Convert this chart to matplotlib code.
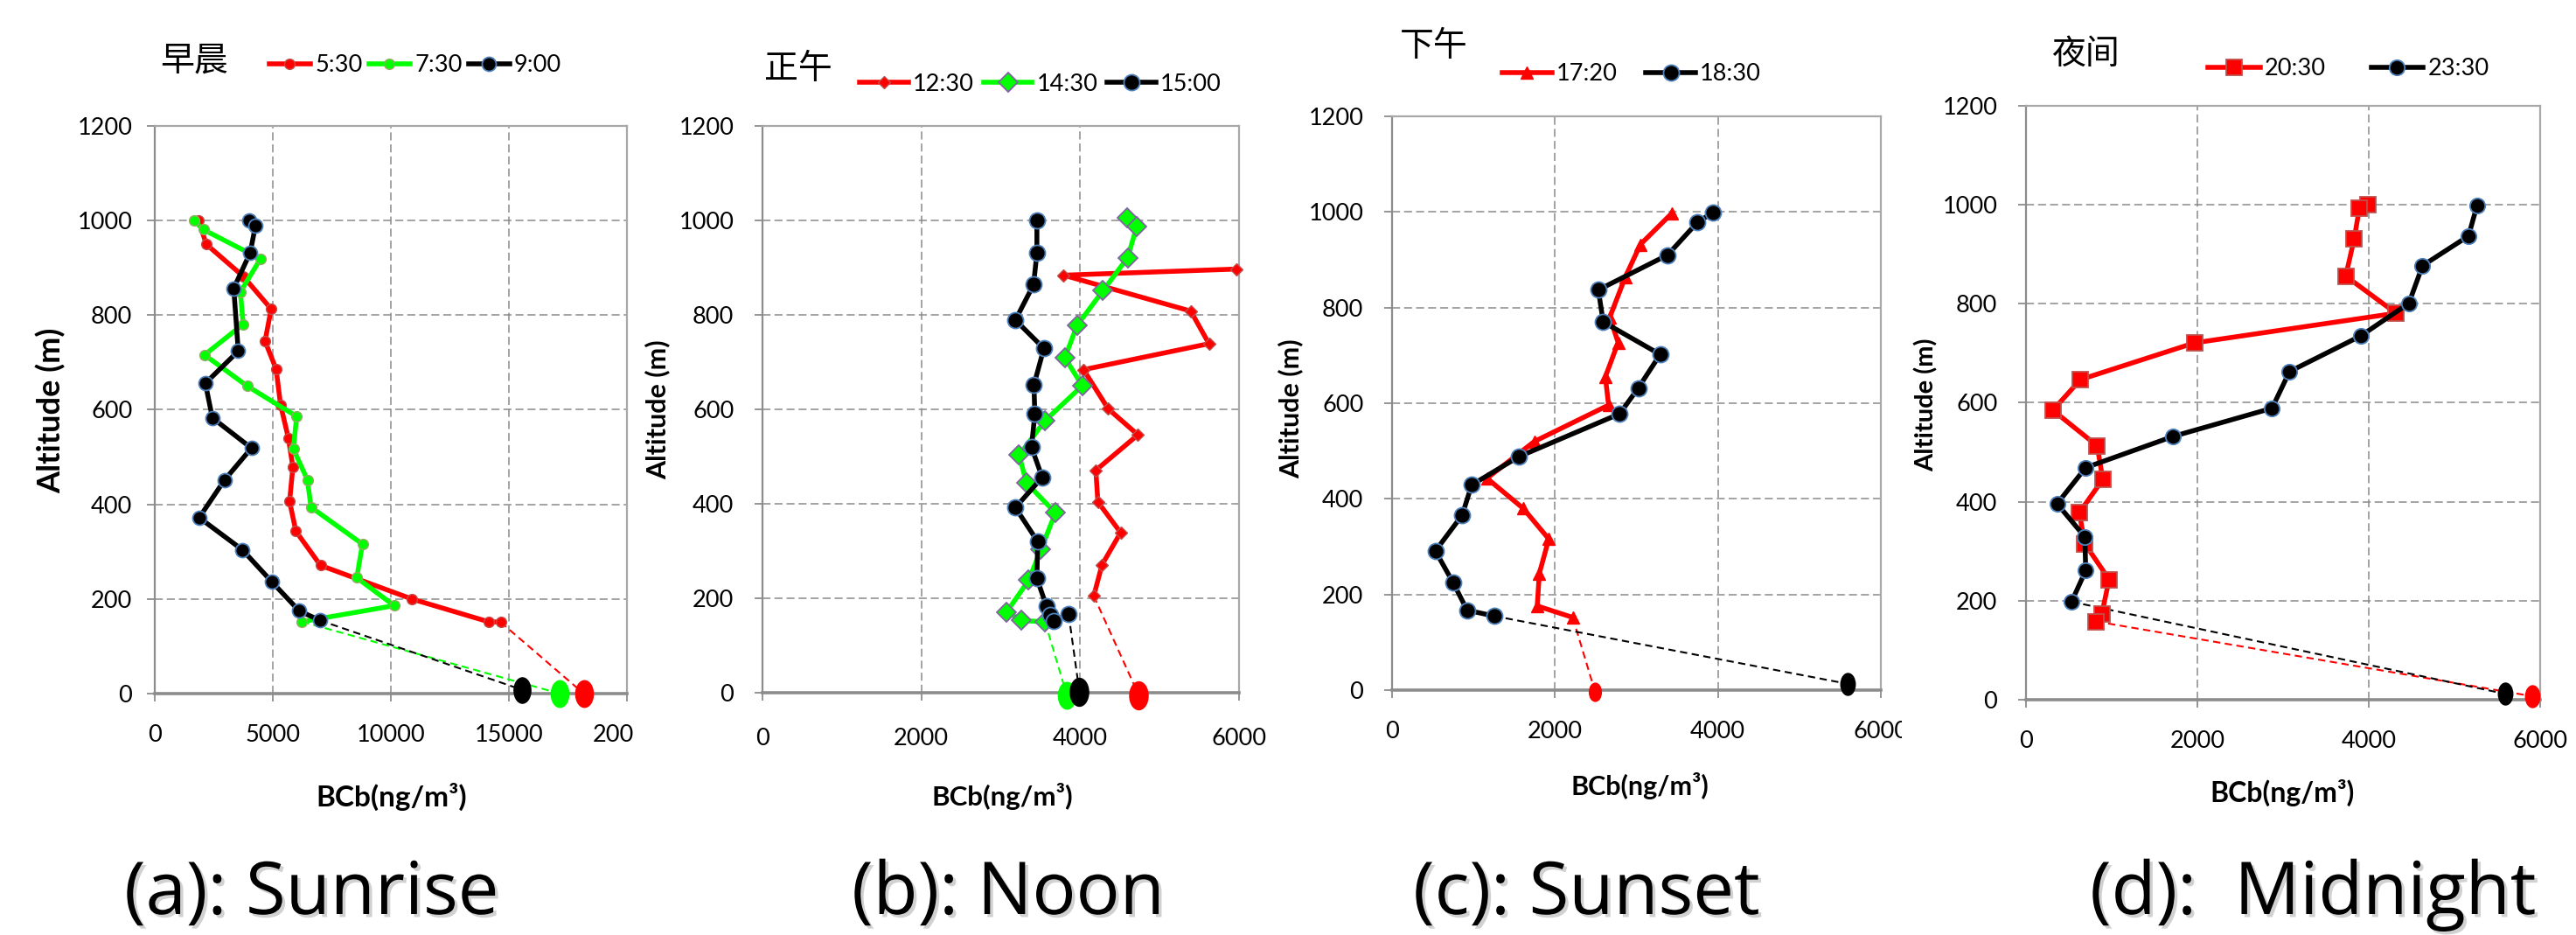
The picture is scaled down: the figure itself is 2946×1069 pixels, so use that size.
import numpy as np
import matplotlib
matplotlib.use('Agg')
import matplotlib.pyplot as plt
from matplotlib.path import Path
import matplotlib.transforms as mtrans
from matplotlib.transforms import Bbox, TransformedBbox
import matplotlib.patheffects as pe

# ---------------- data ----------------
# (a) Sunrise 早晨
a_530_bc = [1860, 2180, 3750, 4930, 4670, 5140, 5330, 5660, 5850, 5710, 5980, 7020, 10890, 14130, 14650]
a_530_alt = [1000, 950, 882, 813, 745, 686, 610, 540, 479, 406, 343, 271, 200, 152, 151]
a_730_bc = [1655, 2056, 4477, 3624, 3746, 2108, 3920, 6010, 5871, 6463, 6620, 8798, 8554, 10139, 6237]
a_730_alt = [1000, 981, 919, 849, 781, 716, 650, 586, 517, 452, 394, 316, 245, 186, 152]
a_900_bc = [4007, 4268, 4042, 3345, 3537, 2143, 2439, 4094, 2962, 1882, 3711, 4965, 6115, 6986]
a_900_alt = [1000, 990, 932, 857, 724, 656, 583, 519, 452, 372, 304, 236, 175, 155]
a_ground_bc = [18170, 17160, 15560]
a_ground_alt = [0, 0, 8]
a_labels = ['5:30', '7:30', '9:00']

# (b) Noon 正午
b_1230_bc = [5964, 3792, 5392, 5621, 4042, 4353, 4727, 4197, 4223, 4509, 4275, 4171]
b_1230_alt = [897, 884, 808, 739, 684, 601, 546, 471, 404, 339, 271, 205]
b_1430_bc = [4587, 4712, 4597, 4286, 3958, 3808, 4026, 3558, 3231, 3325, 3688, 3506, 3351, 3075, 3262, 3558]
b_1430_alt = [1005, 987, 921, 851, 777, 709, 650, 576, 503, 444, 381, 303, 238, 171, 153, 150]
b_1500_bc = [3455, 3455, 3413, 3184, 3543, 3418, 3429, 3387, 3522, 3184, 3465, 3455, 3574, 3626, 3662, 3855]
b_1500_alt = [1000, 931, 864, 789, 729, 652, 590, 520, 456, 392, 320, 242, 184, 164, 152, 166]
b_ground_bc = [4737, 3834, 3990]
b_ground_alt = [-5, -6, 2]
b_labels = ['12:30', '14:30', '15:00']

# (c) Sunset 下午
c_1720_bc = [3433, 3048, 2861, 2673, 2775, 2618, 2658, 1747, 1165, 1610, 1924, 1808, 1782, 2218]
c_1720_alt = [997, 932, 863, 780, 727, 655, 596, 520, 443, 380, 316, 244, 176, 152]
c_1830_bc = [3939, 3747, 3382, 2532, 2592, 3291, 3023, 2795, 1554, 977, 861, 532, 749, 922, 1251]
c_1830_alt = [999, 978, 910, 837, 770, 702, 632, 578, 488, 429, 366, 291, 225, 167, 155]
c_ground_bc = [2491, 5595]
c_ground_alt = [-3, 13]
c_labels = ['17:20', '18:30']

# (d) Midnight 夜间
d_2030_bc = [3990, 3891, 3831, 3731, 4318, 1965, 637, 313, 831, 896, 622, 687, 970, 886, 821]
d_2030_alt = [1000, 994, 932, 856, 781, 721, 647, 585, 513, 445, 378, 315, 243, 174, 158]
d_2330_bc = [5264, 5164, 4627, 4468, 3905, 3075, 2871, 1716, 697, 363, 687, 697, 532]
d_2330_alt = [999, 937, 877, 801, 735, 663, 589, 532, 469, 396, 329, 261, 198]
d_ground_bc = [5910, 5587]
d_ground_alt = [7, 12]
d_labels = ['20:30', '23:30']

y_ticks = [0, 200, 400, 600, 800, 1000, 1200]
a_xticks = [0, 5000, 10000, 15000, 20000]
bcd_xticks = [0, 2000, 4000, 6000]

titles_cn = ['早晨', '正午', '下午', '夜间']
captions = ['(a): Sunrise', '(b): Noon', '(c): Sunset', '(d):  Midnight']
xlabel = 'BCb(ng/m³)'
ylabel = 'Altitude (m)'

# ---------------- styling ----------------
plt.rcParams['font.family'] = ['Liberation Sans Narrow', 'Lato', 'DejaVu Sans']
W, H = 2946, 1069
fig = plt.figure(figsize=(W / 100, H / 100), dpi=100)


def rect(l, r, t, b):
    return [l / W, 1 - b / H, (r - l) / W, (b - t) / H]


ELL = Path.unit_circle().transformed(mtrans.Affine2D().scale(0.66, 1.0))
RED, GREEN, BLACK = '#FF0000', '#00FF00', '#000000'
BLUE_EDGE = '#4F81BD'
TICK_FS = 19.5


def style_axes(ax, xmax, xticks, ypad, xpad):
    ax.set_xlim(0, xmax)
    ax.set_ylim(0, 1200)
    ax.set_xticks(xticks)
    ax.set_yticks(y_ticks)
    ax.set_xticklabels([str(v) for v in xticks])
    ax.grid(True, color='#8a8a8a', linestyle=(0, (6, 3)), linewidth=1.1)
    ax.set_axisbelow(True)
    for s in ['top', 'right']:
        ax.spines[s].set_color('#a8a8a8')
        ax.spines[s].set_linewidth(1.6)
    ax.spines['left'].set_color('#8c8c8c')
    ax.spines['left'].set_linewidth(1.6)
    ax.spines['bottom'].set_color('#8c8c8c')
    ax.spines['bottom'].set_linewidth(2.6)
    ax.tick_params(axis='both', direction='out', color='#8c8c8c', length=6.5,
                   width=1.3, labelsize=TICK_FS)
    ax.tick_params(axis='y', pad=ypad)
    ax.tick_params(axis='x', pad=xpad)


def profile(ax, x, y, color, marker, ms, mfc, mec, mew, label, lw=4.0):
    ax.plot(x, y, color=color, lw=lw, marker=marker, ms=ms, mfc=mfc, mec=mec,
            mew=mew, label=label, zorder=3, clip_on=False)


def ground(ax, x_last, y_last, gx, gy, color, ms):
    ax.plot([x_last, gx], [y_last, gy], color=color, lw=1.5,
            linestyle=(0, (4, 2.5)), zorder=2, clip_on=False)
    ax.plot([gx], [gy], marker=ELL, ms=ms, color=color, mec=color,
            linestyle='none', zorder=5, clip_on=False)


def legend(ax, fx, fy, ncol, hl, cs):
    ax.legend(loc='center', bbox_to_anchor=(fx / W, 1 - fy / H),
              bbox_transform=fig.transFigure, ncol=ncol, frameon=False,
              fontsize=TICK_FS, handlelength=hl, handletextpad=0.19,
              columnspacing=cs, borderaxespad=0, borderpad=0, numpoints=1)


# ---------------- panel (a) ----------------
axa = fig.add_axes(rect(177, 717, 144, 793))
style_axes(axa, 20000, a_xticks, 12, 19)
ground(axa, a_530_bc[-1], a_530_alt[-1], a_ground_bc[0], a_ground_alt[0], RED, 22)
ground(axa, a_730_bc[-1], a_730_alt[-1], a_ground_bc[1], a_ground_alt[1], GREEN, 22)
ground(axa, a_900_bc[-1], a_900_alt[-1], a_ground_bc[2], a_ground_alt[2], BLACK, 21)
profile(axa, a_530_bc, a_530_alt, RED, 'o', 8.5, RED, '#C0504D', 1.0, a_labels[0], lw=4.0)
profile(axa, a_730_bc, a_730_alt, GREEN, 'o', 8.5, GREEN, '#9BA86A', 1.0, a_labels[1], lw=4.0)
profile(axa, a_900_bc, a_900_alt, BLACK, 'o', 11.5, BLACK, BLUE_EDGE, 1.3, a_labels[2], lw=4.0)
legend(axa, 475, 75, 3, 1.75, 0.26)

# ---------------- panel (b) ----------------
axb = fig.add_axes(rect(872, 1417, 144, 792))
style_axes(axb, 6000, bcd_xticks, 17, 22)
ground(axb, b_1230_bc[-1], b_1230_alt[-1], b_ground_bc[0], b_ground_alt[0], RED, 23)
ground(axb, b_1430_bc[-1], b_1430_alt[-1], b_ground_bc[1], b_ground_alt[1], GREEN, 22)
ground(axb, b_1500_bc[-1], b_1500_alt[-1], b_ground_bc[2], b_ground_alt[2], BLACK, 23)
profile(axb, b_1230_bc, b_1230_alt, RED, 'D', 7.5, RED, '#C0504D', 1.0, b_labels[0], lw=4.0)
profile(axb, b_1430_bc, b_1430_alt, GREEN, 'D', 11.5, GREEN, '#8064A2', 1.3, b_labels[1], lw=4.0)
profile(axb, b_1500_bc, b_1500_alt, BLACK, 'o', 13, BLACK, BLUE_EDGE, 1.3, b_labels[2], lw=4.0)
legend(axb, 1190, 96, 3, 2.05, 0.4)

# ---------------- panel (c) ----------------
axc = fig.add_axes(rect(1592, 2151, 133, 789))
style_axes(axc, 6000, bcd_xticks, 17, 19)
ground(axc, c_1720_bc[-1], c_1720_alt[-1], c_ground_bc[0], c_ground_alt[0], RED, 15)
ground(axc, c_1830_bc[-1], c_1830_alt[-1], c_ground_bc[1], c_ground_alt[1], BLACK, 18)
profile(axc, c_1720_bc, c_1720_alt, RED, '^', 10, RED, RED, 1.0, c_labels[0], lw=4.0)
profile(axc, c_1830_bc, c_1830_alt, BLACK, 'o', 13, BLACK, BLUE_EDGE, 1.3, c_labels[1], lw=4.0)
legend(axc, 1866, 85, 2, 2.1, 1.2)

# ---------------- panel (d) ----------------
axd = fig.add_axes(rect(2317, 2905, 121, 800))
style_axes(axd, 6000, bcd_xticks, 17, 19)
ground(axd, d_2030_bc[-1], d_2030_alt[-1], d_ground_bc[0], d_ground_alt[0], RED, 18)
ground(axd, d_2330_bc[-1], d_2330_alt[-1], d_ground_bc[1], d_ground_alt[1], BLACK, 18)
profile(axd, d_2030_bc, d_2030_alt, RED, 's', 12.5, RED, '#C0504D', 1.3, d_labels[0], lw=4.0)
profile(axd, d_2330_bc, d_2330_alt, BLACK, 'o', 12.5, BLACK, BLUE_EDGE, 1.3, d_labels[1], lw=4.0)
legend(axd, 2686, 79, 2, 2.2, 1.9)

# ---------------- texts ----------------
cn_pos = [(222, 70), (913, 79), (1640, 53), (2385, 62)]
for (px, py), t in zip(cn_pos, titles_cn):
    fig.text(px / W, 1 - py / H, t, fontsize=28, family=['Noto Sans CJK SC'],
             ha='center', va='center')

ylab = [(58, 469, 26), (752, 468, 22), (1476, 467, 22), (2203, 463, 21)]
for px, py, fs in ylab:
    fig.text(px / W, 1 - py / H, ylabel, rotation=90, fontsize=fs,
             fontweight='bold', family=['Lato', 'DejaVu Sans'], ha='center', va='center')

xlab = [(448, 911, 24), (1146, 911, 22.5), (1875, 898, 22), (2610, 906, 23)]
for px, py, fs in xlab:
    fig.text(px / W, 1 - py / H, xlabel, fontsize=fs, fontweight='bold',
             family=['Lato', 'DejaVu Sans'], ha='center', va='center')

cap_x = [142, 974, 1616, 2390]
shadow = [pe.withSimplePatchShadow(offset=(2.5, -2.5), shadow_rgbFace='#9a9a9a', alpha=0.45)]
for px, t in zip(cap_x, captions):
    fig.text(px / W, 24 / H, t, fontsize=60, family=['Open Sans', 'DejaVu Sans'],
             ha='left', va='baseline', path_effects=shadow)

# clip the truncated last x tick labels, as in the original screenshot
fig.canvas.draw()
for ax, xclip in [(axa, 724), (axc, 2175)]:
    cb = TransformedBbox(Bbox.from_extents(0, 0, xclip / W, 1), fig.transFigure)
    for tk in ax.xaxis.get_major_ticks():
        tk.label1.set_clip_on(True)
        tk.label1.set_clip_box(cb)

fig.savefig('out.png', dpi=100)
